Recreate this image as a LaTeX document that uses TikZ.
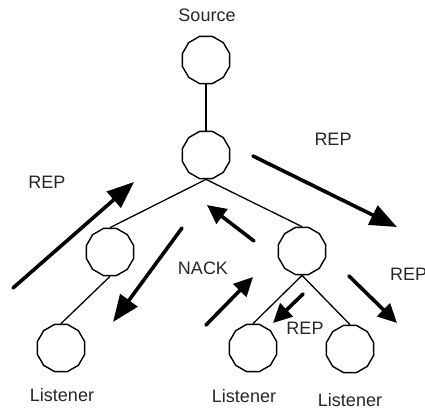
\documentclass[tikz,border=0pt]{standalone}
\usepackage{fontspec}
\setmainfont{Liberation Sans}
\usetikzlibrary{shapes.geometric,arrows.meta}
\begin{document}
\begin{tikzpicture}[x=1pt,y=-1pt,
  site/.style={draw,line width=1.4pt,regular polygon,regular polygon sides=12,minimum size=49pt,inner sep=0pt},
  link/.style={line width=1.3pt},
  bigarrow/.style={line width=3.6pt,-{Triangle[length=27pt,width=21pt]}},
  smallarrow/.style={line width=3.6pt,-{Triangle[length=19pt,width=18pt]}},
  lbl/.style={font=\fontsize{18}{20}\selectfont,text=black!85,inner sep=0pt}]
\useasboundingbox (0,0) rectangle (425,411);
\node[site] (src) at (206,60) {};
\node[site] (hub) at (206,155) {};
\node[site] (ml) at (110,252) {};
\node[site] (mr) at (302,251) {};
\node[site] (l1) at (61,348) {};
\node[site] (l2) at (253,348) {};
\node[site] (l3) at (350,349) {};
\draw[link] (src.south) -- (hub.north);
\draw[link] (hub.south) -- (ml.north);
\draw[link] (hub.south) -- (mr.north);
\draw[link] (ml.south) -- (l1.north);
\draw[link] (mr.south) -- (l2.north);
\draw[link] (mr.south) -- (l3.north);
\node[lbl] (tsrc) at (207,15) {Source};
\node[lbl] (t1) at (62,395) {Listener};
\node[lbl] (t2) at (244,396) {Listener};
\node[lbl] (t3) at (350,400) {Listener};
\node[lbl] (rep1) at (47,182) {REP};
\node[lbl] (rep2) at (333,139) {REP};
\node[lbl] (nack) at (203,268) {NACK};
\node[lbl,anchor=west] (rep3) at (390,274) {REP};
\node[lbl] (rep4) at (305,328) {REP};
\coordinate (a1s) at (13,288); \coordinate (a1e) at (134,182);
\coordinate (a2s) at (253,156); \coordinate (a2e) at (397,227);
\coordinate (a3s) at (182,228); \coordinate (a3e) at (113,322);
\coordinate (a4s) at (254,241); \coordinate (a4e) at (207,205);
\coordinate (a5s) at (206,325); \coordinate (a5e) at (253,277);
\coordinate (a6s) at (303,294); \coordinate (a6e) at (273,323);
\coordinate (a7s) at (349,276); \coordinate (a7e) at (397,323);
\draw[bigarrow,line cap=round] (a1s) -- (a1e);
\draw[bigarrow,line cap=round] (a2s) -- (a2e);
\draw[bigarrow,line cap=round] (a3s) -- (a3e);
\draw[smallarrow,line cap=round] (a4s) -- (a4e);
\draw[smallarrow,line cap=round] (a5s) -- (a5e);
\draw[smallarrow,line cap=round] (a6s) -- (a6e);
\draw[smallarrow,line cap=round] (a7s) -- (a7e);
\end{tikzpicture}
\end{document}
